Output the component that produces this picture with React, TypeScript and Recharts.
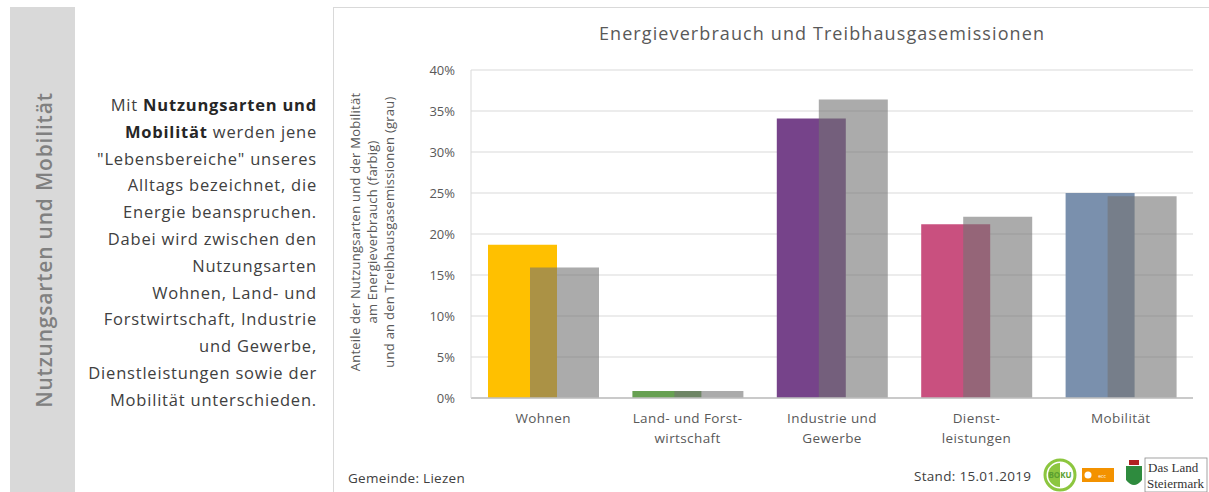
import React from "react";
import { BarChart, Bar, XAxis, YAxis, CartesianGrid, Cell } from "recharts";

const categories = ["Wohnen", "Land- und Forstwirtschaft", "Industrie und Gewerbe", "Dienstleistungen", "Mobilität"];
const tickLines = [["Wohnen"], ["Land- und Forst-", "wirtschaft"], ["Industrie und", "Gewerbe"], ["Dienst-", "leistungen"], ["Mobilität"]];
const energyShare = [18.7, 0.85, 34.1, 21.2, 25.0];
const emissionShare = [15.9, 0.85, 36.4, 22.1, 24.6];
const sectorColors = ["#FFC000", "#67A052", "#76438A", "#C9507F", "#7A90AD"];
const yTicks = [0, 5, 10, 15, 20, 25, 30, 35, 40];
const yLabelLines = [
  "Anteile der Nutzungsarten und der Mobilität",
  "am Energieverbrauch (farbig)",
  "und an den Treibhausgasemissionen (grau)",
];
const paragraphLines: Array<Array<[string, boolean]>> = [
  [["Mit ", false], ["Nutzungsarten und", true]],
  [["Mobilität", true], [" werden jene", false]],
  [["\"Lebensbereiche\" unseres", false]],
  [["Alltags bezeichnet, die", false]],
  [["Energie beanspruchen.", false]],
  [["Dabei wird zwischen den", false]],
  [["Nutzungsarten", false]],
  [["Wohnen, Land- und", false]],
  [["Forstwirtschaft, Industrie", false]],
  [["und Gewerbe,", false]],
  [["Dienstleistungen sowie der", false]],
  [["Mobilität unterschieden.", false]],
];

const data = categories.map((c, i) => ({ cat: c, energy: energyShare[i], emission: emissionShare[i] }));

const FONT = "'Open Sans', Lato, sans-serif";

const XTick = (props: any) => {
  const { x, y, payload } = props;
  const idx = categories.indexOf(payload.value);
  const lines = tickLines[idx] || [payload.value];
  return (
    <text x={x} y={y} textAnchor="middle" fill="#595959" fontSize={13.5} letterSpacing={0.4} fontFamily={FONT}>
      {lines.map((l, i) => (
        <tspan key={i} x={x} dy={i === 0 ? 15 : 20}>
          {l}
        </tspan>
      ))}
    </text>
  );
};

export default function App() {
  return (
    <div style={{ position: "absolute", left: 0, top: 0, width: 1209, height: 492, overflow: "hidden", background: "#fff", fontFamily: FONT }}>
      <div style={{ position: "absolute", left: 10, top: 7, width: 65, height: 490, background: "#D9D9D9" }} />
      <svg style={{ position: "absolute", left: 0, top: 0 }} width={1209} height={492}>
        <text
          x={0}
          y={0}
          transform="translate(52,250) rotate(-90)"
          textAnchor="middle"
          fontSize={21}
          fontWeight={600}
          letterSpacing={0.8}
          fill="#808080"
          fontFamily={FONT}
        >
          Nutzungsarten und Mobilität
        </text>
      </svg>
      <div style={{ position: "absolute", right: 1209 - 317, top: 92, textAlign: "right", fontSize: 16.5, letterSpacing: 0.8, lineHeight: "26.8px", color: "#404040", whiteSpace: "nowrap" }}>
        {paragraphLines.map((line, i) => (
          <div key={i}>
            {line.map(([t, b], j) => (
              <span key={j} style={{ fontWeight: b ? 700 : 400, color: b ? "#262626" : "#404040" }}>
                {t}
              </span>
            ))}
          </div>
        ))}
      </div>
      <div style={{ position: "absolute", left: 333, top: 7, width: 880, height: 500, border: "1px solid #D9D9D9", boxSizing: "border-box" }} />
      <div style={{ position: "absolute", left: 333, top: 7 }}>
        <BarChart width={876} height={485} data={data} margin={{ top: 63, right: 16, left: 78, bottom: 34 }} barSize={69} barGap={-27}>
          <CartesianGrid horizontal={true} vertical={false} stroke="#D9D9D9" strokeWidth={1} />
          <XAxis
            dataKey="cat"
            interval={0}
            height={60}
            tick={<XTick />}
            tickLine={false}
            tickSize={0}
            tickMargin={10}
            axisLine={{ stroke: "#BFBFBF", strokeWidth: 1.5 }}
          />
          <YAxis
            domain={[0, 40]}
            ticks={yTicks}
            width={60}
            tickLine={false}
            tickSize={0}
            tickMargin={16}
            axisLine={{ stroke: "#D9D9D9" }}
            tickFormatter={(v: number) => `${v}%`}
            tick={{ fill: "#595959", fontSize: 13, fontFamily: FONT }}
          />
          <Bar dataKey="energy" isAnimationActive={false}>
            {data.map((_, i) => (
              <Cell key={i} fill={sectorColors[i]} />
            ))}
          </Bar>
          <Bar dataKey="emission" isAnimationActive={false} fill="#737373" fillOpacity={0.6} />
        </BarChart>
      </div>
      <svg style={{ position: "absolute", left: 0, top: 0, pointerEvents: "none" }} width={1209} height={492}>
        <text x={822} y={40} textAnchor="middle" fontSize={18} fill="#595959" fontFamily={FONT} letterSpacing={1.1}>
          Energieverbrauch und Treibhausgasemissionen
        </text>
        {yLabelLines.map((l, i) => (
          <text
            key={i}
            x={0}
            y={0}
            transform={`translate(${360 + i * 17},232) rotate(-90)`}
            textAnchor="middle"
            fontSize={13}
            letterSpacing={0.25}
            fill="#595959"
            fontFamily={FONT}
          >
            {l}
          </text>
        ))}
        <text x={348} y={483} fontSize={13.5} letterSpacing={0.3} fill="#404040" fontFamily={FONT}>
          Gemeinde: Liezen
        </text>
        <text x={914} y={481} fontSize={13.5} letterSpacing={0.3} fill="#404040" fontFamily={FONT}>
          Stand: 15.01.2019
        </text>
        <circle cx={1060} cy={475} r={15} fill="#fff" stroke="#8CC63F" strokeWidth={3} />
        <path d="M1060,463 A12,12 0 0,0 1060,487 Z" fill="#8CC63F" />
        <text x={1060} y={478} textAnchor="middle" fontSize={8} fontWeight={700} fill="#5A9E2F" fontFamily={FONT}>
          BOKU
        </text>
        <rect x={1082} y={468} width={32} height={14} fill="#F39200" />
        <circle cx={1088} cy={475} r={3.5} fill="#fff" />
        <text x={1102} y={478} textAnchor="middle" fontSize={5} fill="#fff" fontFamily={FONT}>
          ecc
        </text>
        <path d="M1126,466 L1142,466 L1142,480 Q1134,490 1126,480 Z" fill="#2E8B3E" />
        <rect x={1129} y={460} width={10} height={5} fill="#B22222" />
        <rect x={1145} y={458} width={62} height={34} fill="none" stroke="#8C8C8C" strokeWidth={0.8} />
        <text x={1148} y={472} fontSize={13} fill="#333" fontFamily="'Liberation Serif', serif">
          Das Land
        </text>
        <text x={1147} y={488} fontSize={13} fill="#333" fontFamily="'Liberation Serif', serif">
          Steiermark
        </text>
      </svg>
    </div>
  );
}
